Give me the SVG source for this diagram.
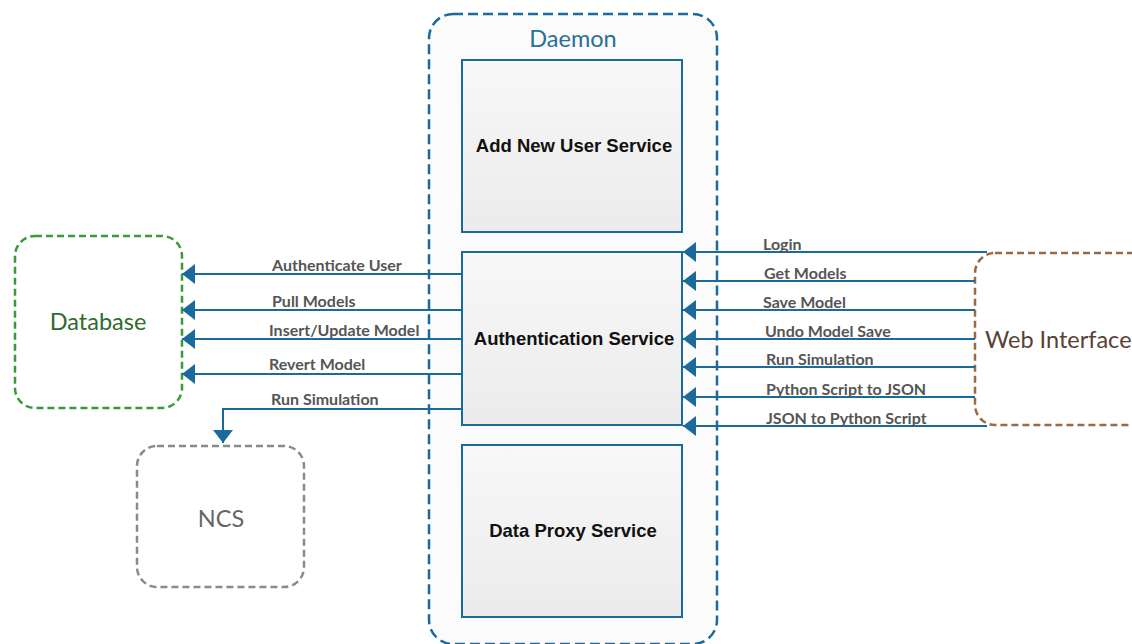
<svg xmlns="http://www.w3.org/2000/svg" width="1132" height="644" viewBox="0 0 1132 644">
  <style>
    .svc { stroke: #1b6a9c; stroke-width: 2; fill: url(#svcFill); }
    .svc-label { font-family: "Liberation Sans", Arial, sans-serif; font-weight: bold; font-size: 18.5px; fill: #111; text-anchor: middle; }
    .ext-label { font-family: Lato, "Open Sans", sans-serif; font-size: 23.5px; text-anchor: middle; }
    .edge { stroke: #1b6a9c; stroke-width: 2; fill: none; }
    .edge-label { font-family: Lato, "Open Sans", sans-serif; font-size: 16px; font-weight: bold; fill: #555; }
  </style>
  <defs>
    <linearGradient id="svcFill" x1="0" y1="0" x2="0" y2="1">
      <stop offset="0" stop-color="#f8f8f8"/>
      <stop offset="1" stop-color="#ebebeb"/>
    </linearGradient>
    <marker id="arrow" viewBox="0 0 13 20" refX="13" refY="10" markerWidth="13" markerHeight="20" markerUnits="userSpaceOnUse" orient="auto">
      <path d="M0,0 L13,10 L0,20 Z" fill="#1b6a9c"/>
    </marker>
  </defs>

  <rect width="1132" height="644" fill="#ffffff"/>

  <!-- Daemon container -->
  <g id="daemon">
    <rect x="429" y="14" width="288" height="630" rx="24" fill="#fbfbfb" stroke="#1b6a9c" stroke-width="2.5" stroke-dasharray="10 5"/>
    <text x="573" y="47" class="ext-label" fill="#2a6f97">Daemon</text>
  </g>

  <g id="add-user-service">
    <rect x="462" y="60" width="220" height="172" class="svc"/>
    <text x="574" y="152" class="svc-label">Add New User Service</text>
  </g>

  <g id="authentication-service">
    <rect x="462" y="252" width="220" height="173" class="svc"/>
    <text x="574" y="345" class="svc-label">Authentication Service</text>
  </g>

  <g id="data-proxy-service">
    <rect x="462" y="445" width="220" height="172" class="svc"/>
    <text x="573" y="537" class="svc-label">Data Proxy Service</text>
  </g>

  <g id="database">
    <rect x="15" y="236" width="167" height="172" rx="20" fill="#ffffff" stroke="#3a993a" stroke-width="2.5" stroke-dasharray="7 4"/>
    <text x="98" y="330" class="ext-label" fill="#2f6a2f">Database</text>
  </g>

  <g id="ncs">
    <rect x="137" y="446" width="167" height="141" rx="20" fill="#ffffff" stroke="#8a8a8a" stroke-width="2.5" stroke-dasharray="7 4"/>
    <text x="221" y="527" class="ext-label" fill="#666666">NCS</text>
  </g>

  <g id="web-interface">
    <rect x="975" y="253" width="180" height="172" rx="20" fill="#ffffff" stroke="#9a6a45" stroke-width="2.5" stroke-dasharray="7 4"/>
    <text x="985" y="348" class="ext-label" fill="#5a4035" style="text-anchor:start">Web Interface</text>
  </g>

  <!-- Connectors -->
  <g id="connectors">
    <line x1="462" y1="274" x2="182" y2="274" class="edge" marker-end="url(#arrow)"/>
    <line x1="462" y1="310" x2="182" y2="310" class="edge" marker-end="url(#arrow)"/>
    <line x1="462" y1="339" x2="182" y2="339" class="edge" marker-end="url(#arrow)"/>
    <line x1="462" y1="374" x2="182" y2="374" class="edge" marker-end="url(#arrow)"/>
    <path d="M462,409 H223 V443" class="edge" marker-end="url(#arrow)"/>

    <line x1="987" y1="252" x2="683" y2="252" class="edge" marker-end="url(#arrow)"/>
    <line x1="975" y1="281" x2="683" y2="281" class="edge" marker-end="url(#arrow)"/>
    <line x1="975" y1="310" x2="683" y2="310" class="edge" marker-end="url(#arrow)"/>
    <line x1="975" y1="339" x2="683" y2="339" class="edge" marker-end="url(#arrow)"/>
    <line x1="975" y1="367" x2="683" y2="367" class="edge" marker-end="url(#arrow)"/>
    <line x1="975" y1="397" x2="683" y2="397" class="edge" marker-end="url(#arrow)"/>
    <line x1="987" y1="426" x2="683" y2="426" class="edge" marker-end="url(#arrow)"/>

    <text x="272" y="271" class="edge-label">Authenticate User</text>
    <text x="272" y="307" class="edge-label">Pull Models</text>
    <text x="269" y="336" class="edge-label">Insert/Update Model</text>
    <text x="269" y="370" class="edge-label">Revert Model</text>
    <text x="271" y="405" class="edge-label">Run Simulation</text>

    <text x="763" y="250" class="edge-label">Login</text>
    <text x="764" y="279" class="edge-label">Get Models</text>
    <text x="763" y="308" class="edge-label">Save Model</text>
    <text x="765" y="337" class="edge-label">Undo Model Save</text>
    <text x="766" y="365" class="edge-label">Run Simulation</text>
    <text x="766" y="395" class="edge-label">Python Script to JSON</text>
    <text x="766" y="424" class="edge-label">JSON to Python Script</text>
  </g>
</svg>
